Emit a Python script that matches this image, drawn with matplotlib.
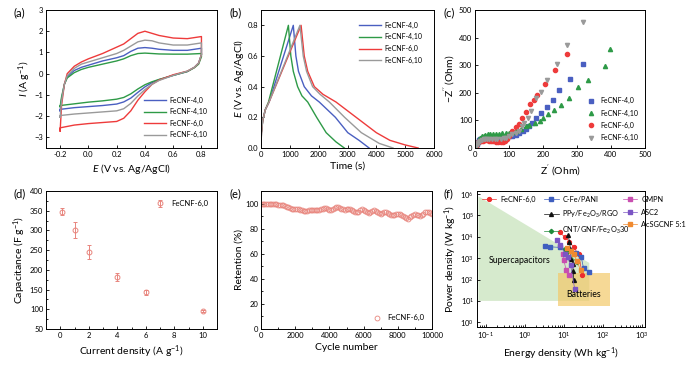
import numpy as np
import matplotlib.pyplot as plt
import matplotlib as mpl
from matplotlib.patches import Polygon, Rectangle

plt.rcParams['font.family'] = ['Lato', 'DejaVu Sans']
plt.rcParams['mathtext.fontset'] = 'custom'
plt.rcParams['mathtext.rm'] = 'Lato'
plt.rcParams['mathtext.it'] = 'Lato:italic'
plt.rcParams['font.size'] = 6
plt.rcParams['axes.labelsize'] = 7.5
plt.rcParams['xtick.labelsize'] = 5.5
plt.rcParams['ytick.labelsize'] = 5.5
plt.rcParams['axes.linewidth'] = 0.7
plt.rcParams['xtick.direction'] = 'in'
plt.rcParams['ytick.direction'] = 'in'
plt.rcParams['xtick.major.size'] = 2.5
plt.rcParams['ytick.major.size'] = 2.5
plt.rcParams['xtick.minor.size'] = 1.5
plt.rcParams['ytick.minor.size'] = 1.5
plt.rcParams['xtick.major.width'] = 0.6
plt.rcParams['ytick.major.width'] = 0.6
plt.rcParams['xtick.major.pad'] = 2
plt.rcParams['ytick.major.pad'] = 2
plt.rcParams['axes.labelpad'] = 3
plt.rcParams['legend.fontsize'] = 5

names = ['FeCNF-4,0', 'FeCNF-4,10', 'FeCNF-6,0', 'FeCNF-6,10']
colors = ['#4a5fc1', '#2e9a47', '#ee3b3b', '#9a9a9a']

# (a) cyclic voltammetry
cv_e_fwd = [-0.2, -0.19, -0.17, -0.15, -0.1, -0.05, 0.0, 0.1, 0.2, 0.25, 0.3, 0.35, 0.4, 0.45, 0.5, 0.6, 0.7, 0.8]
cv_e_rev = [0.8, 0.78, 0.75, 0.7, 0.6, 0.5, 0.45, 0.4, 0.35, 0.3, 0.25, 0.2, 0.1, 0.0, -0.1, -0.2]
cv_fwd = [
    [-1.75, -1.2, -0.5, -0.15, 0.15, 0.3, 0.4, 0.6, 0.75, 0.85, 1.05, 1.2, 1.23, 1.2, 1.15, 1.1, 1.1, 1.2],
    [-1.55, -1.1, -0.5, -0.2, 0.05, 0.2, 0.3, 0.45, 0.6, 0.7, 0.85, 0.95, 0.97, 0.95, 0.93, 0.92, 0.92, 0.95],
    [-2.7, -1.5, -0.5, 0.0, 0.35, 0.55, 0.7, 0.95, 1.25, 1.4, 1.65, 1.9, 2.0, 1.9, 1.8, 1.68, 1.65, 1.75],
    [-2.05, -1.3, -0.5, -0.1, 0.25, 0.45, 0.55, 0.75, 0.95, 1.1, 1.3, 1.5, 1.58, 1.55, 1.45, 1.35, 1.35, 1.45],
]
cv_rev = [
    [0.9, 0.5, 0.3, 0.1, -0.08, -0.28, -0.42, -0.62, -0.88, -1.15, -1.33, -1.43, -1.5, -1.55, -1.6, -1.68],
    [0.8, 0.45, 0.28, 0.1, -0.08, -0.27, -0.38, -0.52, -0.72, -0.95, -1.12, -1.2, -1.28, -1.34, -1.42, -1.5],
    [0.9, 0.5, 0.3, 0.12, -0.05, -0.3, -0.5, -0.85, -1.25, -1.75, -2.1, -2.25, -2.3, -2.35, -2.42, -2.55],
    [0.9, 0.5, 0.3, 0.12, -0.08, -0.32, -0.5, -0.75, -1.05, -1.4, -1.65, -1.75, -1.8, -1.85, -1.9, -1.97],
]

# (b) galvanostatic charge/discharge
gcd_t = [
    [0, 15, 60, 150, 280, 1120, 1210, 1300, 1500, 1750, 2020, 2580, 3010, 3400, 3750],
    [0, 15, 60, 150, 260, 950, 1035, 1120, 1270, 1420, 1620, 1930, 2260, 2600, 2890],
    [0, 15, 60, 150, 280, 1390, 1500, 1620, 1850, 2150, 2600, 3300, 4000, 4470, 5000, 5450],
    [0, 15, 60, 150, 280, 1350, 1465, 1580, 1790, 2050, 2370, 2900, 3480, 4100, 4580],
]
gcd_e = [
    [0, 0.1, 0.18, 0.25, 0.3, 0.8, 0.6, 0.5, 0.4, 0.34, 0.3, 0.2, 0.1, 0.05, 0.0],
    [0, 0.1, 0.18, 0.25, 0.3, 0.8, 0.6, 0.5, 0.4, 0.34, 0.3, 0.2, 0.1, 0.04, 0.0],
    [0, 0.1, 0.18, 0.25, 0.3, 0.8, 0.6, 0.5, 0.4, 0.35, 0.3, 0.2, 0.1, 0.05, 0.02, 0.0],
    [0, 0.1, 0.18, 0.25, 0.3, 0.8, 0.6, 0.5, 0.4, 0.35, 0.3, 0.2, 0.1, 0.03, 0.0],
]

# (c) Nyquist
eis_re = [
    [3, 5, 8, 12, 16, 20, 25, 30, 36, 42, 50, 58, 66, 75, 84, 92, 100, 108, 120, 130, 140, 150, 160, 168, 180, 195, 212, 230, 248, 280, 318],
    [3, 5, 8, 12, 16, 20, 25, 30, 37, 45, 53, 62, 71, 80, 90, 100, 110, 120, 135, 150, 160, 175, 190, 200, 215, 232, 252, 275, 302, 333, 382, 397],
    [2, 4, 7, 10, 14, 18, 23, 28, 34, 40, 47, 54, 61, 68, 75, 82, 88, 94, 100, 110, 120, 128, 138, 150, 163, 173, 183, 205, 235, 270],
    [3, 5, 8, 12, 16, 20, 25, 30, 36, 42, 50, 58, 66, 75, 84, 92, 100, 110, 120, 130, 138, 145, 155, 165, 180, 195, 212, 240, 272, 318],
]
eis_im = [
    [8, 15, 22, 28, 32, 35, 37, 38, 39, 40, 40, 40, 40, 40, 40, 41, 42, 43, 48, 55, 62, 70, 80, 92, 108, 128, 150, 175, 210, 250, 305],
    [10, 18, 26, 33, 38, 42, 45, 47, 49, 50, 51, 52, 52, 53, 54, 55, 58, 62, 70, 78, 82, 90, 98, 108, 122, 137, 157, 182, 222, 245, 297, 360],
    [5, 12, 17, 21, 24, 26, 27, 28, 28, 27, 26, 24, 22, 20, 20, 22, 26, 33, 45, 60, 75, 88, 107, 130, 158, 173, 193, 232, 284, 340],
    [6, 12, 18, 23, 27, 29, 31, 32, 32, 32, 32, 32, 32, 33, 35, 38, 43, 50, 55, 62, 80, 90, 110, 133, 180, 203, 245, 303, 373, 455],
]
eis_markers = ['s', '^', 'o', 'v']

# (d) rate capability
cur_density = [0.1, 1, 2, 4, 6, 10]
capacitance = [348, 302, 246, 182, 143, 96]
cap_err = [10, 20, 18, 10, 7, 3]

# (e) cycling stability
cycles = list(range(0, 10001, 100))
retention = [100, 100, 99.5, 99.5, 100, 100, 99.5, 99.5, 100, 99.5, 99,
             99, 99, 98.5, 98, 97.5, 97, 96.5, 96, 96, 96,
             96, 95.5, 95, 94.5, 94, 94, 94, 94.5, 95, 95,
             95, 94.5, 94.5, 95, 95.5, 96, 96.5, 96.5, 96, 95,
             95, 96, 96.5, 97, 97, 96.5, 96, 95.5, 95, 95.5,
             96, 95.5, 95, 94, 93.5, 93, 93.5, 94.5, 95.5, 95,
             94, 93, 92.5, 93, 94, 94.5, 94, 93, 92.5, 92,
             92.5, 93, 93, 92.5, 92, 91, 90.5, 91, 91.5, 92,
             91.5, 90.5, 90, 89, 88.5, 88, 89, 90, 91, 91.5,
             91, 90.5, 90, 90.5, 91.5, 93, 93.5, 93, 92.5, 92]

# (f) Ragone plot
rag_names = ['FeCNF-6,0', 'C-Fe/PANI', 'PPy/Fe$_2$O$_3$/RGO', 'CNT/GNF/Fe$_2$O$_3$30',
             'GMPN', 'ASC2', 'AcSGCNF 5:1']
rag_colors = ['#ee2c2c', '#3f5fbf', '#111111', '#1f8a3a', '#c94fb0', '#7b55c4', '#f08a30']
rag_markers = ['o', 's', '^', 'D', 's', 's', 's']
rag_energy = [
    [7.8, 11, 14, 18, 24, 30],
    [3.3, 4.5, 8, 13, 20, 28, 32, 45],
    [13, 14, 14.8, 15.5, 17, 17.4, 17.8],
    [11, 11.3, 11.5, 22],
    [9.4, 10, 11.5, 13.4],
    [6.7, 8.2, 11, 12.5, 15, 19],
    [12, 15, 18, 22, 27],
]
rag_power = [
    [1.6e4, 9.5e3, 6e3, 3.2e3, 1.5e3, 160],
    [3.7e3, 3.4e3, 3.2e3, 2.6e3, 1.8e3, 1.1e3, 350, 230],
    [1.2e4, 5.6e3, 2.8e3, 900, 550, 240, 100],
    [2.8e3, 2.3e3, 1.7e3, 660],
    [1.5e3, 800, 290, 160],
    [6.9e3, 4e3, 1.5e3, 1.1e3, 460, 37],
    [3e3, 2.2e3, 1.5e3, 700, 270],
]
rag_yticks = [1e0, 1e1, 1e2, 1e3, 1e4, 1e5, 1e6]
rag_xticks = [1e-1, 1e0, 1e1, 1e2, 1e3]

W, H = 692, 366
fig = plt.figure(figsize=(W / 100, H / 100), dpi=100)


def box(l, t, r, b):
    return fig.add_axes([l / W, (H - b) / H, (r - l) / W, (b - t) / H])


# ---------- (a)
ax = box(46, 10, 217, 148)
for i in range(4):
    e = cv_e_fwd + cv_e_rev + [cv_e_fwd[0]]
    cur = cv_fwd[i] + cv_rev[i] + [cv_fwd[i][0]]
    ax.plot(e, cur, color=colors[i], lw=1.0, label=names[i])
ax.set_xlim(-0.3, 0.91)
ax.set_ylim(-3.5, 3)
ax.xaxis.set_major_locator(mpl.ticker.MultipleLocator(0.2))
ax.xaxis.set_major_formatter(mpl.ticker.FormatStrFormatter('%.1f'))
ax.yaxis.set_major_locator(mpl.ticker.MultipleLocator(1))
ax.set_xlabel('$E$ (V vs. Ag/AgCl)')
ax.set_ylabel('$I$ (A g$^{-1}$)', labelpad=1)
ax.legend(loc='lower right', frameon=False, handlelength=3.2, labelspacing=0.65,
          borderaxespad=1.0, handletextpad=0.5)
fig.text(13 / W, 1 - 13 / H, '(a)', fontsize=8, va='center')

# ---------- (b)
ax = box(261, 10, 434, 148)
for i in range(4):
    ax.plot(gcd_t[i], gcd_e[i], color=colors[i], lw=1.0, label=names[i])
ax.set_xlim(0, 6000)
ax.set_ylim(0, 0.9)
ax.xaxis.set_major_locator(mpl.ticker.MultipleLocator(1000))
ax.yaxis.set_major_locator(mpl.ticker.MultipleLocator(0.2))
ax.yaxis.set_major_formatter(mpl.ticker.FormatStrFormatter('%.1f'))
ax.set_xlabel('Time (s)')
ax.set_ylabel('$E$ (V vs. Ag/AgCl)', labelpad=1)
ax.legend(loc='upper right', frameon=False, handlelength=3.2, labelspacing=0.65,
          borderaxespad=1.3, handletextpad=0.5)
fig.text(229 / W, 1 - 13 / H, '(b)', fontsize=8, va='center')

# ---------- (c)
ax = box(475, 10, 645, 148)
for i in range(4):
    ax.plot(eis_re[i], eis_im[i], ls='none', marker=eis_markers[i], ms=3,
            color=colors[i], mec=colors[i], label=names[i])
ax.set_xlim(0, 500)
ax.set_ylim(0, 500)
ax.xaxis.set_major_locator(mpl.ticker.MultipleLocator(100))
ax.yaxis.set_major_locator(mpl.ticker.MultipleLocator(100))
ax.set_xlabel("Z$^{'}$ (Ohm)")
ax.set_ylabel("$-$Z$^{''}$ (Ohm)", labelpad=1)
ax.legend(loc='lower right', frameon=False, handlelength=1.0, labelspacing=0.75,
          borderaxespad=0.6, handletextpad=0.8, bbox_to_anchor=(1.0, 0.0))
fig.text(443 / W, 1 - 13 / H, '(c)', fontsize=8, va='center')

# ---------- (d)
ax = box(46, 191, 217, 329)
lc = '#e8857d'
ax.errorbar(cur_density, capacitance, yerr=cap_err, fmt='o', ms=3.5, mfc='none',
            mec=lc, ecolor=lc, mew=0.7, elinewidth=0.7, capsize=1.5, label='FeCNF-6,0')
ax.set_xlim(-1, 11)
ax.set_ylim(50, 400)
ax.xaxis.set_major_locator(mpl.ticker.MultipleLocator(2))
ax.yaxis.set_major_locator(mpl.ticker.MultipleLocator(50))
ax.yaxis.set_minor_locator(mpl.ticker.MultipleLocator(25))
ax.xaxis.set_minor_locator(mpl.ticker.MultipleLocator(1))
ax.set_xlabel('Current density (A g$^{-1}$)')
ax.set_ylabel('Capacitance (F g$^{-1}$)', labelpad=1)
ax.legend(loc='upper right', frameon=False, handlelength=1.0, borderaxespad=0.8,
          handletextpad=0.9, fontsize=5.5)
fig.text(13 / W, 1 - 194 / H, '(d)', fontsize=8, va='center')

# ---------- (e)
ax = box(261, 191, 432, 329)
ax.plot(cycles, retention, ls='none', marker='o', ms=3.5, mfc='none', mec=lc,
        mew=0.6, label='FeCNF-6,0')
ax.set_xlim(0, 10000)
ax.set_ylim(0, 110)
ax.xaxis.set_major_locator(mpl.ticker.MultipleLocator(2000))
ax.xaxis.set_minor_locator(mpl.ticker.MultipleLocator(1000))
ax.yaxis.set_major_locator(mpl.ticker.MultipleLocator(20))
ax.yaxis.set_minor_locator(mpl.ticker.MultipleLocator(10))
ax.set_xlabel('Cycle number')
ax.set_ylabel('Retention (%)', labelpad=1)
ax.legend(loc='lower right', frameon=False, handlelength=1.0, borderaxespad=0.6,
          handletextpad=0.9, fontsize=5.5)
fig.text(229 / W, 1 - 194 / H, '(e)', fontsize=8, va='center')

# ---------- (f)
ax = box(477, 191, 645, 327)
ax.set_xscale('log')
ax.set_yscale('log')
ax.add_patch(Polygon([(0.065, 8e5), (45, 6e2), (45, 10), (0.065, 10)], closed=True,
                     facecolor='#c9e3bd', alpha=0.75, edgecolor='none', zorder=0))
ax.add_patch(Rectangle((7, 6), 143, 194, facecolor='#f3c96a', alpha=0.7,
                       edgecolor='none', zorder=0))
ax.text(0.75, 800, 'Supercapacitors', fontsize=6.3, ha='center', va='center')
ax.text(33, 20, 'Batteries', fontsize=6.3, ha='center', va='center')
handles = []
for i in range(len(rag_names)):
    h, = ax.plot(rag_energy[i], rag_power[i], marker=rag_markers[i],
                 ms=2.8 if rag_markers[i] != 'D' else 2.2, color=rag_colors[i], lw=0.5,
                 label=rag_names[i])
    handles.append(h)
ax.set_xticks(rag_xticks)
ax.set_yticks(rag_yticks)
ax.yaxis.set_minor_locator(mpl.ticker.NullLocator())
ax.set_xlim(0.06, 1200)
ax.set_ylim(0.6, 1.4e6)
ax.set_xlabel('Energy density (Wh kg$^{-1}$)')
ax.set_ylabel('Power density (W kg$^{-1}$)', labelpad=1)
leg_kw = dict(frameon=False, handlelength=2.0, handletextpad=0.5, labelspacing=0.75,
              fontsize=5.3, borderaxespad=0)
l1 = ax.legend(handles=handles[:1], loc='upper left', bbox_to_anchor=(0.01, 0.985), **leg_kw)
ax.add_artist(l1)
l2 = ax.legend(handles=handles[1:4], loc='upper left', bbox_to_anchor=(0.38, 0.985), **leg_kw)
ax.add_artist(l2)
ax.legend(handles=handles[4:], loc='upper left', bbox_to_anchor=(0.85, 0.985), **leg_kw)
fig.text(443 / W, 1 - 194 / H, '(f)', fontsize=8, va='center')

plt.savefig('out.png', dpi=100)
